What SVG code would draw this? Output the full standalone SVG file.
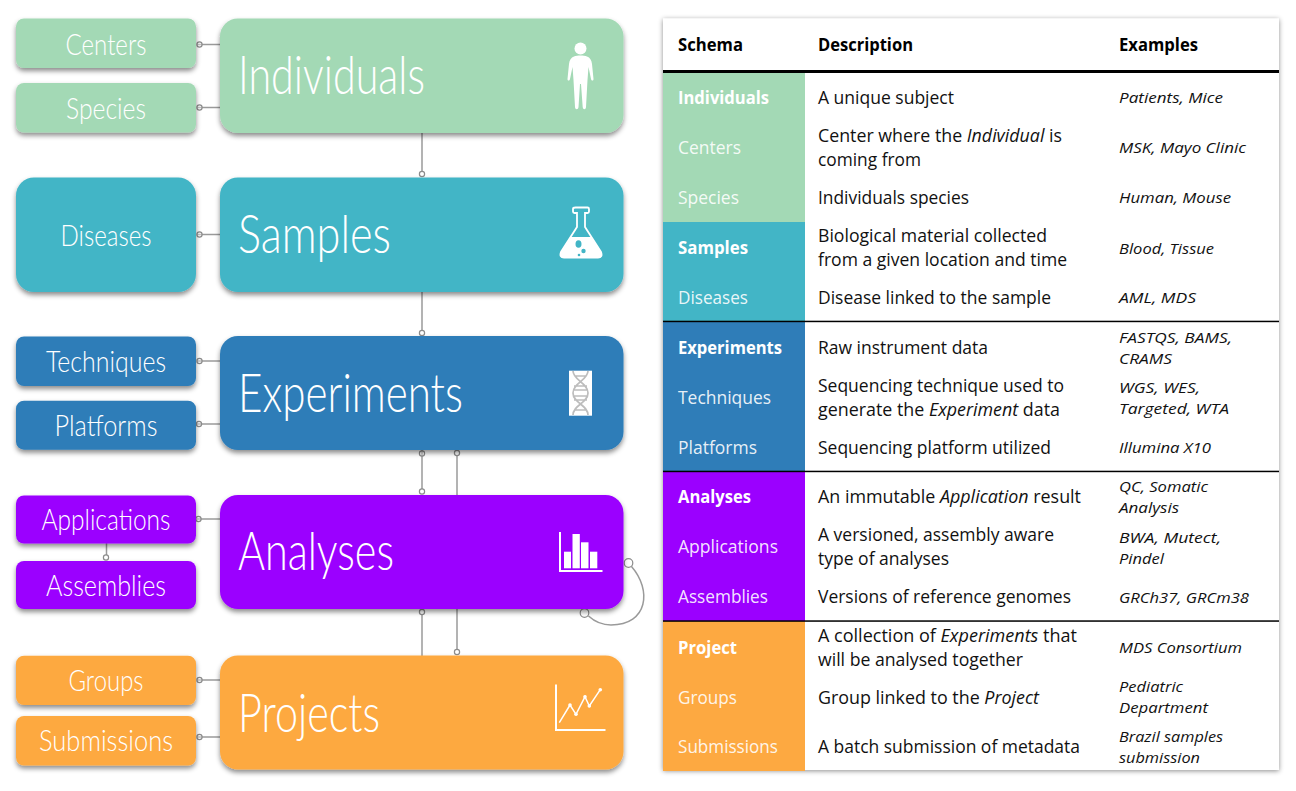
<svg xmlns="http://www.w3.org/2000/svg" width="1296" height="791" viewBox="0 0 1296 791">
<defs>
<filter id="sh" x="-10%" y="-20%" width="120%" height="150%"><feDropShadow dx="0" dy="3" stdDeviation="2.5" flood-color="#000" flood-opacity="0.45"/></filter>
<filter id="tsh" x="-3%" y="-3%" width="106%" height="106%"><feDropShadow dx="0" dy="1" stdDeviation="2.5" flood-color="#000" flood-opacity="0.45"/></filter>
</defs>
<style>
.g{fill:#a3d9b5}.t{fill:#42b5c6}.b{fill:#2f7db8}.p{fill:#9b00ff}.o{fill:#fda941}
.box{filter:url(#sh)}
.big{font:300 53px Lato,"Liberation Sans",sans-serif;fill:#fff}
.sm{font:300 29.500px Lato,"Liberation Sans",sans-serif;fill:#fff;text-anchor:middle}
.c line,.c path{stroke:#9a9a9a;stroke-width:1.5;fill:none}
.c circle{stroke:#8c8c8c;stroke-width:1.2;fill:#fff;fill-opacity:.4}
.h{font:700 18px "Open Sans","Liberation Sans",sans-serif;fill:#000}
.d{font:400 17.500px "Open Sans","Liberation Sans",sans-serif;fill:#111}
.e{font:italic 400 14.700px "Open Sans","Liberation Sans",sans-serif;fill:#111}
.sb{font:700 18px "Open Sans","Liberation Sans",sans-serif;fill:#fff}
.sl{font:400 18px "Open Sans","Liberation Sans",sans-serif;fill:#fff;fill-opacity:.9}
.i{font-style:italic}
.ic{fill:#fff}
</style>

<g id="connectors" class="c">
<line x1="197" y1="44.500" x2="220" y2="44.500"/><circle cx="199.500" cy="44.500" r="2.600"/>
<line x1="197" y1="107.500" x2="220" y2="107.500"/><circle cx="199.500" cy="107.500" r="2.600"/>
<line x1="422" y1="133" x2="422" y2="172"/><circle cx="422" cy="174" r="2.600"/>
<line x1="197" y1="234.500" x2="220" y2="234.500"/><circle cx="199.500" cy="234.500" r="2.600"/>
<line x1="422" y1="292" x2="422" y2="331"/><circle cx="422" cy="333" r="2.600"/>
<line x1="197" y1="361" x2="220" y2="361"/><circle cx="199.500" cy="361" r="2.600"/>
<line x1="197" y1="424" x2="220" y2="424"/><circle cx="199" cy="424" r="2.600"/>
<line x1="422" y1="450" x2="422" y2="489"/><circle cx="422" cy="453.500" r="2.600"/><circle cx="422" cy="491.500" r="2.600"/>
<line x1="457" y1="455" x2="457" y2="495"/><circle cx="457" cy="453" r="2.600"/>
<line x1="197" y1="519" x2="220" y2="519"/><circle cx="198.500" cy="519" r="2.600"/>
<line x1="106.500" y1="543" x2="106.500" y2="555"/><circle cx="106" cy="557.500" r="2.600"/>
<path d="M631.500 566.500C652 590 648 625 611 625C601 625 594 621 588.500 616"/><circle cx="628.500" cy="563" r="4.300"/><circle cx="584.500" cy="613" r="4.300"/>
<line x1="422" y1="614" x2="422" y2="656"/><circle cx="422" cy="612" r="2.600"/>
<line x1="457" y1="609" x2="457" y2="650"/><circle cx="457" cy="652" r="2.600"/>
<line x1="197" y1="680" x2="220" y2="680"/><circle cx="199.500" cy="680" r="2.600"/>
<line x1="197" y1="737" x2="220" y2="737"/><circle cx="199.500" cy="737" r="2.600"/>
</g>

<g id="centers"><rect class="box g" x="16" y="18.500" width="180" height="49.500" rx="8"/><text class="sm" x="106" y="55" textLength="81" lengthAdjust="spacingAndGlyphs">Centers</text></g>
<g id="species"><rect class="box g" x="16" y="83" width="180" height="49.500" rx="8"/><text class="sm" x="106" y="119" textLength="80" lengthAdjust="spacingAndGlyphs">Species</text></g>
<g id="individuals"><rect class="box g" x="220" y="18.500" width="403.500" height="114.500" rx="18"/><text class="big" x="238" y="94" textLength="187" lengthAdjust="spacingAndGlyphs">Individuals</text>
<g class="ic"><circle cx="580.500" cy="48.500" r="6"/><path d="M574 56.500C577.500 55.300 583.500 55.300 587 56.500C590 57.500 591.500 60 592 64L593.500 79C593.500 81 591.500 81 591 79L588.500 67L587.500 80L586 107C585.800 110 583 110 582.700 107L581 84H580L578.500 107C578.200 110 575.200 110 575 107L573.500 80L572.500 67L570 79C569.500 81 567.500 81 567.500 79L569 64C569.500 60 571 57.500 574 56.500Z"/></g></g>

<g id="diseases"><rect class="box t" x="16" y="177.500" width="180" height="114.500" rx="18"/><text class="sm" x="106" y="246" textLength="91" lengthAdjust="spacingAndGlyphs">Diseases</text></g>
<g id="samples"><rect class="box t" x="220" y="177.500" width="403.500" height="114.500" rx="18"/><text class="big" x="238" y="252.500" textLength="153" lengthAdjust="spacingAndGlyphs">Samples</text>
<path d="M575.500 207.500H587.500Q589 207.500 589 209V211.500Q589 213 587.500 213H585V227L601 252Q603 257.500 598 257.500H564Q559 257.500 561 252L577 227V213H574.500Q573 213 573 211.500V209Q573 207.500 575.500 207.500Z" fill="none" stroke="#fff" stroke-width="1.800"/>
<path d="M571 237H591L601 252Q603 257.500 598 257.500H564Q559 257.500 561 252Z" class="ic"/>
<ellipse cx="578.500" cy="244" rx="3" ry="3.800" class="t"/><circle cx="583.500" cy="251" r="2.200" class="t"/><circle cx="579" cy="255" r="1.300" class="t"/></g>

<g id="techniques"><rect class="box b" x="16" y="336.500" width="180" height="49.500" rx="8"/><text class="sm" x="106" y="372" textLength="120" lengthAdjust="spacingAndGlyphs">Techniques</text></g>
<g id="platforms"><rect class="box b" x="16" y="400.700" width="180" height="49" rx="8"/><text class="sm" x="106" y="436" textLength="103" lengthAdjust="spacingAndGlyphs">Platforms</text></g>
<g id="experiments"><rect class="box b" x="220" y="336" width="403.500" height="114" rx="18"/><text class="big" x="238" y="411.500" textLength="225" lengthAdjust="spacingAndGlyphs">Experiments</text>
<rect x="569" y="370.700" width="23" height="45" fill="#fff"/>
<path d="M573 371C573 380 588 383 588 393C588 403 573 405 573 415M588 371C588 380 573 383 573 393C573 403 588 405 588 415M575 376H586M574 386H587M574 390H587M574 396H587M574 400H587M575 410H586" fill="none" stroke="#bdbdbd" stroke-width="1.700"/></g>

<g id="applications"><rect class="box p" x="16" y="495.500" width="180" height="48" rx="8"/><text class="sm" x="106" y="530" textLength="129" lengthAdjust="spacingAndGlyphs">Applications</text></g>
<g id="assemblies"><rect class="box p" x="16" y="561" width="180" height="48" rx="8"/><text class="sm" x="106" y="596" textLength="120" lengthAdjust="spacingAndGlyphs">Assemblies</text></g>
<g id="analyses"><rect class="box p" x="220" y="495" width="403.500" height="114" rx="18"/><text class="big" x="238" y="570" textLength="156" lengthAdjust="spacingAndGlyphs">Analyses</text>
<g class="ic"><path d="M559 532H561V570H602.500V572H559Z"/><rect x="564" y="551.700" width="7" height="16.600"/><rect x="572.500" y="534" width="7.300" height="34.300"/><rect x="581" y="542.300" width="7.500" height="26"/><rect x="590" y="551.700" width="7.300" height="16.600"/></g></g>

<g id="groups"><rect class="box o" x="16" y="655.700" width="180" height="49.300" rx="8"/><text class="sm" x="106" y="691" textLength="75" lengthAdjust="spacingAndGlyphs">Groups</text></g>
<g id="submissions"><rect class="box o" x="16" y="716" width="180" height="49.500" rx="8"/><text class="sm" x="106" y="751" textLength="134" lengthAdjust="spacingAndGlyphs">Submissions</text></g>
<g id="projects"><rect class="box o" x="220" y="655.500" width="403.500" height="114" rx="18"/><text class="big" x="238" y="731.500" textLength="142" lengthAdjust="spacingAndGlyphs">Projects</text>
<path d="M555 684.500H557V729H605.500V731H555Z" class="ic"/><path d="M559.300 722.700L570 705L576 714.300L585 696.700L589.300 706L600.300 689.700" fill="none" stroke="#fff" stroke-width="1.500"/><g class="ic"><circle cx="570" cy="705" r="1.800"/><circle cx="576" cy="714.300" r="1.800"/><circle cx="585" cy="696.700" r="1.800"/><circle cx="589.300" cy="706" r="1.800"/><circle cx="600.300" cy="689.700" r="1.800"/></g></g>

<g id="table">
<rect x="663" y="18.500" width="616" height="751.500" fill="#fff" filter="url(#tsh)"/>
<rect class="g" x="663" y="72" width="142" height="150"/>
<rect class="t" x="663" y="222" width="142" height="99.500"/>
<rect class="b" x="663" y="321.500" width="142" height="150"/>
<rect class="p" x="663" y="471.500" width="142" height="150"/>
<rect class="o" x="663" y="621" width="142" height="150"/>
<rect x="663" y="70" width="616" height="3" fill="#000"/>
<rect x="663" y="320.700" width="616" height="1.500" fill="#000"/>
<rect x="663" y="470.700" width="616" height="1.500" fill="#000"/>
<rect x="663" y="620.300" width="616" height="1.500" fill="#000"/>
<text class="h" x="678" y="51" textLength="65" lengthAdjust="spacingAndGlyphs">Schema</text>
<text class="h" x="818" y="51" textLength="95" lengthAdjust="spacingAndGlyphs">Description</text>
<text class="h" x="1119" y="51" textLength="79" lengthAdjust="spacingAndGlyphs">Examples</text>

<text class="sb" x="678" y="104" textLength="91" lengthAdjust="spacingAndGlyphs">Individuals</text>
<text class="sl" x="678" y="154" textLength="63" lengthAdjust="spacingAndGlyphs">Centers</text>
<text class="sl" x="678" y="204" textLength="61" lengthAdjust="spacingAndGlyphs">Species</text>
<text class="sb" x="678" y="254" textLength="70" lengthAdjust="spacingAndGlyphs">Samples</text>
<text class="sl" x="678" y="304" textLength="70" lengthAdjust="spacingAndGlyphs">Diseases</text>
<text class="sb" x="678" y="354" textLength="104" lengthAdjust="spacingAndGlyphs">Experiments</text>
<text class="sl" x="678" y="404" textLength="93" lengthAdjust="spacingAndGlyphs">Techniques</text>
<text class="sl" x="678" y="454" textLength="79" lengthAdjust="spacingAndGlyphs">Platforms</text>
<text class="sb" x="678" y="503" textLength="73" lengthAdjust="spacingAndGlyphs">Analyses</text>
<text class="sl" x="678" y="553" textLength="100" lengthAdjust="spacingAndGlyphs">Applications</text>
<text class="sl" x="678" y="603" textLength="90" lengthAdjust="spacingAndGlyphs">Assemblies</text>
<text class="sb" x="678" y="654" textLength="59" lengthAdjust="spacingAndGlyphs">Project</text>
<text class="sl" x="678" y="704" textLength="59" lengthAdjust="spacingAndGlyphs">Groups</text>
<text class="sl" x="678" y="753" textLength="100" lengthAdjust="spacingAndGlyphs">Submissions</text>

<text class="d" x="818" y="103.500" textLength="136" lengthAdjust="spacingAndGlyphs">A unique subject</text>
<text class="d" x="818" y="141.500" textLength="244" lengthAdjust="spacingAndGlyphs">Center where the <tspan class="i">Individual</tspan> is</text>
<text class="d" x="818" y="165.500" textLength="103" lengthAdjust="spacingAndGlyphs">coming from</text>
<text class="d" x="818" y="203.500" textLength="151" lengthAdjust="spacingAndGlyphs">Individuals species</text>
<text class="d" x="818" y="242" textLength="229" lengthAdjust="spacingAndGlyphs">Biological material collected</text>
<text class="d" x="818" y="266" textLength="249" lengthAdjust="spacingAndGlyphs">from a given location and time</text>
<text class="d" x="818" y="304" textLength="233" lengthAdjust="spacingAndGlyphs">Disease linked to the sample</text>
<text class="d" x="818" y="353.500" textLength="170" lengthAdjust="spacingAndGlyphs">Raw instrument data</text>
<text class="d" x="818" y="391.500" textLength="246" lengthAdjust="spacingAndGlyphs">Sequencing technique used to</text>
<text class="d" x="818" y="415.500" textLength="242" lengthAdjust="spacingAndGlyphs">generate the <tspan class="i">Experiment</tspan> data</text>
<text class="d" x="818" y="453.500" textLength="233" lengthAdjust="spacingAndGlyphs">Sequencing platform utilized</text>
<text class="d" x="818" y="503" textLength="263" lengthAdjust="spacingAndGlyphs">An immutable <tspan class="i">Application</tspan> result</text>
<text class="d" x="818" y="541" textLength="236" lengthAdjust="spacingAndGlyphs">A versioned, assembly aware</text>
<text class="d" x="818" y="565" textLength="131" lengthAdjust="spacingAndGlyphs">type of analyses</text>
<text class="d" x="818" y="603" textLength="253" lengthAdjust="spacingAndGlyphs">Versions of reference genomes</text>
<text class="d" x="818" y="641.500" textLength="259" lengthAdjust="spacingAndGlyphs">A collection of <tspan class="i">Experiments</tspan> that</text>
<text class="d" x="818" y="665.500" textLength="205" lengthAdjust="spacingAndGlyphs">will be analysed together</text>
<text class="d" x="818" y="703.500" textLength="221" lengthAdjust="spacingAndGlyphs">Group linked to the <tspan class="i">Project</tspan></text>
<text class="d" x="818" y="753" textLength="262" lengthAdjust="spacingAndGlyphs">A batch submission of metadata</text>

<text class="e" x="1119" y="103" textLength="104" lengthAdjust="spacingAndGlyphs">Patients, Mice</text>
<text class="e" x="1119" y="153" textLength="127" lengthAdjust="spacingAndGlyphs">MSK, Mayo Clinic</text>
<text class="e" x="1119" y="203" textLength="112" lengthAdjust="spacingAndGlyphs">Human, Mouse</text>
<text class="e" x="1119" y="254" textLength="95" lengthAdjust="spacingAndGlyphs">Blood, Tissue</text>
<text class="e" x="1119" y="303" textLength="77" lengthAdjust="spacingAndGlyphs">AML, MDS</text>
<text class="e" x="1119" y="343" textLength="113" lengthAdjust="spacingAndGlyphs">FASTQS, BAMS,</text>
<text class="e" x="1119" y="363.500" textLength="53" lengthAdjust="spacingAndGlyphs">CRAMS</text>
<text class="e" x="1119" y="393" textLength="81" lengthAdjust="spacingAndGlyphs">WGS, WES,</text>
<text class="e" x="1119" y="414" textLength="110" lengthAdjust="spacingAndGlyphs">Targeted, WTA</text>
<text class="e" x="1119" y="453" textLength="92" lengthAdjust="spacingAndGlyphs">Illumina X10</text>
<text class="e" x="1119" y="492" textLength="89" lengthAdjust="spacingAndGlyphs">QC, Somatic</text>
<text class="e" x="1119" y="513" textLength="60" lengthAdjust="spacingAndGlyphs">Analysis</text>
<text class="e" x="1119" y="543" textLength="102" lengthAdjust="spacingAndGlyphs">BWA, Mutect,</text>
<text class="e" x="1119" y="563.500" textLength="45" lengthAdjust="spacingAndGlyphs">Pindel</text>
<text class="e" x="1119" y="603" textLength="130" lengthAdjust="spacingAndGlyphs">GRCh37, GRCm38</text>
<text class="e" x="1119" y="653" textLength="123" lengthAdjust="spacingAndGlyphs">MDS Consortium</text>
<text class="e" x="1119" y="692" textLength="64" lengthAdjust="spacingAndGlyphs">Pediatric</text>
<text class="e" x="1119" y="713" textLength="89" lengthAdjust="spacingAndGlyphs">Department</text>
<text class="e" x="1119" y="742" textLength="104" lengthAdjust="spacingAndGlyphs">Brazil samples</text>
<text class="e" x="1119" y="763" textLength="81" lengthAdjust="spacingAndGlyphs">submission</text>
</g>
</svg>
